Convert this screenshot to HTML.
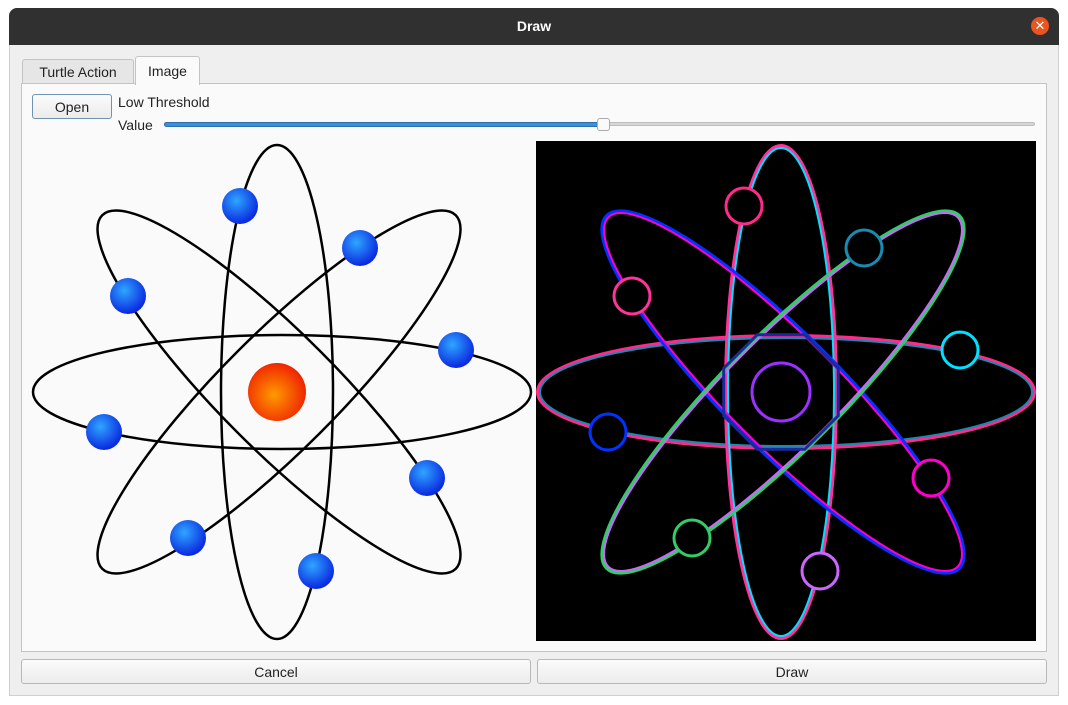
<!DOCTYPE html>
<html><head><meta charset="utf-8"><style>
body{margin:0;width:1068px;height:705px;background:#fff;font-family:"Liberation Sans","DejaVu Sans",sans-serif;font-size:14px;color:#222;position:relative;overflow:hidden}
.abs{position:absolute}
.btn{position:absolute;border:1px solid #b8b8b8;border-radius:3px;background:linear-gradient(#fbfbfb,#ececec);text-align:center;box-sizing:border-box;font-size:14px}
</style></head><body>
<div class="abs" style="left:9px;top:8px;width:1050px;height:688px;background:#efefef;border:1px solid #cfcfcf;border-radius:8px 8px 0 0;box-sizing:border-box"></div>
<div class="abs" style="left:9px;top:8px;width:1050px;height:37px;background:#303030;border-radius:8px 8px 0 0"></div>
<div class="abs" style="left:9px;top:18px;width:1050px;text-align:center;color:#fff;font-weight:bold;font-size:14px">Draw</div>
<div class="abs" style="left:1031px;top:17px;width:18px;height:18px;border-radius:50%;background:#e9541f;color:#fff;font-size:13px;line-height:18px;text-align:center">✕</div>
<div class="abs" style="left:22px;top:59px;width:112px;height:25px;background:#e6e6e6;border:1px solid #c4c4c4;border-bottom:none;border-radius:3px 3px 0 0;box-sizing:border-box;text-align:center;line-height:25px">Turtle Action</div>
<div class="abs" style="left:135px;top:56px;width:65px;height:29px;background:#fafafa;border:1px solid #c4c4c4;border-bottom:none;border-radius:3px 3px 0 0;box-sizing:border-box;text-align:center;line-height:28px;z-index:2">Image</div>
<div class="abs" style="left:21px;top:83px;width:1026px;height:569px;background:#fafafa;border:1px solid #c4c4c4;box-sizing:border-box"></div>
<div class="btn" style="left:32px;top:94px;width:80px;height:25px;border-color:#6e93b3;line-height:24px">Open</div>
<div class="abs" style="left:118px;top:94px">Low Threshold</div>
<div class="abs" style="left:118px;top:117px">Value</div>
<div class="abs" style="left:164px;top:122px;width:871px;height:4px;background:#d6d6d6;border:1px solid #bdbdbd;border-radius:3px;box-sizing:border-box"></div>
<div class="abs" style="left:164px;top:122px;width:440px;height:5px;background:#3d8fd6;border:1px solid #2a6fb0;border-radius:3px;box-sizing:border-box"></div>
<div class="abs" style="left:597px;top:118px;width:13px;height:13px;background:#fafafa;border:1px solid #aaa;border-radius:3px;box-sizing:border-box"></div>
<svg class="abs" style="left:0;top:0" width="1068" height="705" id="art">
<defs>
<radialGradient id="eg" cx="40%" cy="35%" r="65%"><stop offset="0" stop-color="#2fa6ff"/><stop offset="1" stop-color="#0a28e0"/></radialGradient>
<radialGradient id="ng" cx="45%" cy="55%" r="60%"><stop offset="0" stop-color="#ff9a00"/><stop offset="1" stop-color="#ee1c00"/></radialGradient>
</defs>
<rect x="536" y="141" width="500" height="500" fill="#000"/>
<g id="left"></g><g id="right"></g>
</svg>
<div class="btn" style="left:21px;top:659px;width:510px;height:25px;line-height:24px">Cancel</div>
<div class="btn" style="left:537px;top:659px;width:510px;height:25px;line-height:24px">Draw</div>
<script>
const center=[277,392];
const orbitAngles=[0,90,45,-45];
const orbitOffsetX=[5,0,2,2];
const orbitRadii=[[249,57],[247,56],[250,58],[250,58]];
const electronsX=[240,360,128,456,104,427,188,316];
const electronsY=[206,248,296,350,432,478,538,571];
const rightColors=['#ff2a8a','#1a8ab0','#ff3399','#00e0ff','#0033ff','#ff00cc','#33cc66','#cc66ff'];
const NS='http://www.w3.org/2000/svg';
function mk(t,a,p){const e=document.createElementNS(NS,t);for(const k in a)e.setAttribute(k,a[k]);p.appendChild(e);return e;}
const L=document.getElementById('left'),R=document.getElementById('right');
const dx=504;
orbitAngles.forEach((a,i)=>{
 const cx=center[0]+orbitOffsetX[i];
 const e=mk('ellipse',{cx:cx,cy:center[1],rx:orbitRadii[i][0],ry:orbitRadii[i][1],fill:'none',stroke:'#000','stroke-width':2.5,transform:`rotate(${a} ${cx} ${center[1]})`},L);
 
 
 const r1=mk('ellipse',{cx:cx+dx,cy:center[1],rx:orbitRadii[i][0]-1,ry:orbitRadii[i][1]-1,fill:'none',stroke:rightColors[i*2],'stroke-width':4,transform:`rotate(${a} ${cx+dx} ${center[1]})`},R);
 
 
 const r2=mk('ellipse',{cx:cx+dx,cy:center[1],rx:orbitRadii[i][0]-3,ry:orbitRadii[i][1]-3,fill:'none',stroke:rightColors[i*2+1],'stroke-width':2,transform:`rotate(${a} ${cx+dx} ${center[1]})`},R);
 
 
});
const oct=[];for(let k=0;k<8;k++){const t=(k*45+22.5)*Math.PI/180;oct.push((center[0]+dx+62*Math.cos(t))+','+(center[1]+62*Math.sin(t)));}
const o=mk('polygon',{points:oct.join(' '),fill:'none',stroke:'#1a2a9a','stroke-width':3},R);


const nc=mk('circle',{cx:center[0]+dx,cy:center[1],r:29,fill:'none',stroke:'#9b30ff','stroke-width':3},R);


electronsX.forEach((x,i)=>{
 const c=mk('circle',{cx:x,cy:electronsY[i],r:18,fill:'url(#eg)'},L);
 
 
 const rc=mk('circle',{cx:x+dx,cy:electronsY[i],r:18,fill:'#000',stroke:rightColors[i],'stroke-width':3},R);
 
 
});
const n=mk('circle',{cx:center[0],cy:center[1],r:29,fill:'url(#ng)'},L);


</script>
</body></html>
